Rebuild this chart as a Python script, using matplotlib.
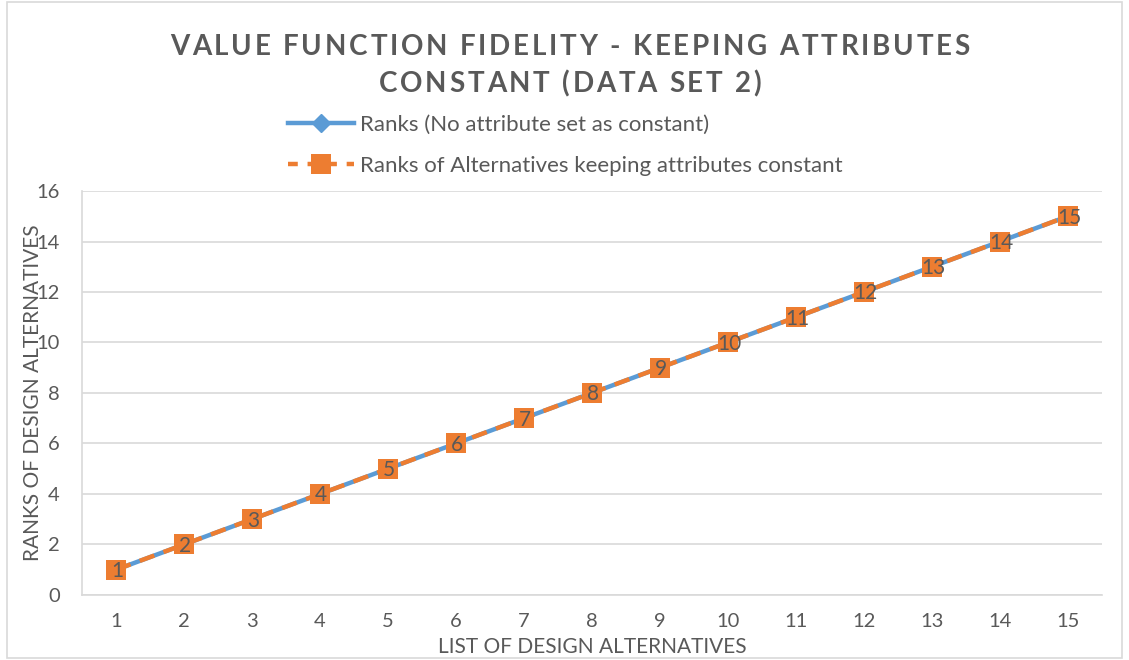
import matplotlib
matplotlib.use("Agg")
import matplotlib.pyplot as plt
from matplotlib.lines import Line2D
from matplotlib.patches import Rectangle
from matplotlib.font_manager import FontProperties

alternatives = list(range(1, 16))
ranks_base = [1, 2, 3, 4, 5, 6, 7, 8, 9, 10, 11, 12, 13, 14, 15]
ranks_const = [1, 2, 3, 4, 5, 6, 7, 8, 9, 10, 11, 12, 13, 14, 15]
yticks = [0, 2, 4, 6, 8, 10, 12, 14, 16]

title_lines = ["VALUE FUNCTION FIDELITY - KEEPING ATTRIBUTES",
               "CONSTANT (DATA SET 2)"]
xlabel = "LIST OF DESIGN ALTERNATIVES"
ylabel = "RANKS OF DESIGN ALTERNATIVES"
legend_labels = ["Ranks (No attribute set as constant)",
                 "Ranks of Alternatives keeping attributes constant"]

BLUE = "#5B9BD5"
ORANGE = "#ED7D31"
GRAY = "#595959"
GRID = "#D9D9D9"

plt.rcParams['font.family'] = ['Lato', 'DejaVu Sans']

W, H = 1129, 660
fig = plt.figure(figsize=(W / 100, H / 100), dpi=100)
fig.patches.append(Rectangle((0.006, 0.003), 0.988, 0.994, transform=fig.transFigure,
                             fill=False, edgecolor=GRID, linewidth=1.2))
ax = fig.add_axes([0.0726, 0.0985, 0.9034, 0.6121])

x = range(len(alternatives))
ax.plot(x, ranks_base, color=BLUE, linewidth=3.2, marker='D', markersize=9,
        solid_capstyle='round', zorder=3)
ax.plot(x, ranks_const, color=ORANGE, linewidth=3.2, linestyle=(0, (3.5, 2.2)),
        marker='s', markersize=15, markeredgewidth=0, zorder=4)
for xi, v in zip(x, ranks_const):
    ax.text(xi + 0.02, v - 0.05, str(v), ha='center', va='center', color=GRAY,
            fontsize=15, zorder=5)

ax.set_xlim(-0.5, len(alternatives) - 0.5)
ax.set_ylim(0, 16)
ax.set_yticks(yticks)
ax.set_xticks(list(x))
ax.set_xticklabels([str(a) for a in alternatives])
ax.grid(axis='y', color=GRID, linewidth=1.2)
ax.set_axisbelow(True)
for s in ['top', 'right']:
    ax.spines[s].set_visible(False)
ax.spines['left'].set_color(GRID)
ax.spines['bottom'].set_color(GRID)
ax.spines['left'].set_linewidth(1.2)
ax.spines['bottom'].set_linewidth(1.2)
ax.tick_params(axis='both', length=0, colors=GRAY, labelsize=14.5)
ax.tick_params(axis='x', pad=13)
ax.tick_params(axis='y', pad=16)

ax.set_xlabel(xlabel, color=GRAY, fontsize=15, labelpad=5)
ax.set_ylabel(ylabel, color=GRAY, fontsize=15, labelpad=-5)

# Letter-spaced title (chart-style tracking)
renderer = fig.canvas.get_renderer()
tprop = FontProperties(family=['Lato', 'DejaVu Sans'], weight='bold', size=20)
def char_widths(s):
    return [renderer.get_text_width_height_descent(c, tprop, ismath=False)[0] for c in s]
w0 = char_widths(title_lines[0])
target0 = 800.0
spacing = (target0 - sum(w0)) / (len(w0) - 1)
centre_x = 570.0
line_y = [47.0, 84.0]
for line, ly in zip(title_lines, line_y):
    ws = char_widths(line)
    total = sum(ws) + spacing * (len(ws) - 1)
    cx = centre_x - total / 2
    for c, wc in zip(line, ws):
        if c != ' ':
            fig.text(cx / W, 1 - ly / H, c, ha='left', va='center', color=GRAY,
                     fontproperties=tprop)
        cx += wc + spacing

h1 = Line2D([], [], color=BLUE, linewidth=3.2, marker='D', markersize=9)
h2 = Line2D([], [], color=ORANGE, linewidth=3.2, linestyle=(0, (2.2, 2.2)),
            marker='s', markersize=14, markeredgewidth=0)
leg = fig.legend([h1, h2], legend_labels, loc='upper left', bbox_to_anchor=(0.247, 0.84),
                 frameon=False, fontsize=16, labelcolor=GRAY, handlelength=3.0,
                 labelspacing=0.95, handletextpad=0.25, borderaxespad=0)

fig.savefig("out.png", dpi=100)
